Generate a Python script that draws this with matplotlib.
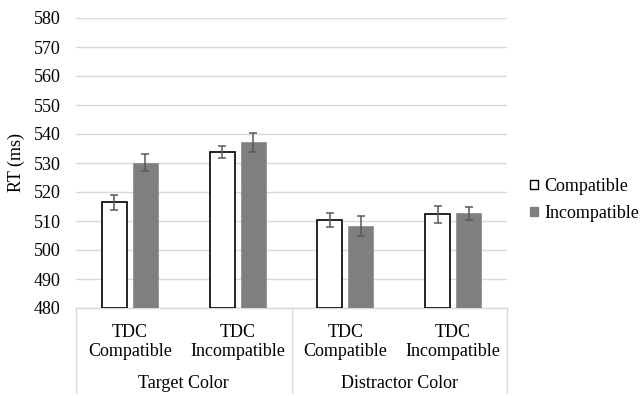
import matplotlib
matplotlib.use('Agg')
import matplotlib.pyplot as plt
from matplotlib.patches import Patch
from matplotlib.transforms import blended_transform_factory
import numpy as np

plt.rcParams['font.family'] = ['Liberation Serif', 'DejaVu Serif']

conditions = ['TDC\nCompatible', 'TDC\nIncompatible', 'TDC\nCompatible', 'TDC\nIncompatible']
groups = ['Target Color', 'Distractor Color']
series = ['Compatible', 'Incompatible']

rt_compatible = [516.4, 533.8, 510.2, 512.3]
rt_incompatible = [530.1, 537.1, 508.3, 512.6]
err_compatible = [2.5, 2.2, 2.4, 2.9]
err_incompatible = [2.9, 3.2, 3.3, 2.4]

fig = plt.figure(figsize=(6.43, 3.96), dpi=100)
ax = fig.add_axes([76 / 643, 1 - 308 / 396, 431 / 643, 290 / 396])

x = np.arange(len(conditions))
w = 0.232
off = 0.144
ekw = dict(ecolor='#595959', elinewidth=1.1, capsize=2.6, capthick=1.1)

ax.bar(x - off, [v - 480 for v in rt_compatible], w, bottom=480, color='white',
       edgecolor='black', linewidth=1.2, yerr=err_compatible, error_kw=ekw,
       zorder=3, label=series[0])
ax.bar(x + off, [v - 480 for v in rt_incompatible], w, bottom=480, color='#7f7f7f',
       edgecolor='#8a8a8a', linewidth=0.5, yerr=err_incompatible, error_kw=ekw,
       zorder=3, label=series[1])

ax.set_xlim(-0.5, 3.5)
ax.set_ylim(480, 580)
ax.set_yticks(range(480, 581, 10))
ax.yaxis.grid(True, color='#d9d9d9', linewidth=1.0, zorder=0)
ax.set_axisbelow(True)
for s in ['left', 'right', 'top']:
    ax.spines[s].set_visible(False)
ax.spines['bottom'].set_color('#d9d9d9')
ax.spines['bottom'].set_linewidth(1.0)
ax.tick_params(axis='y', length=0, pad=11, labelsize=13)
ax.set_xticks([])
ax.set_ylabel('RT (ms)', fontsize=13, labelpad=6)

# two-level category axis
tr = blended_transform_factory(ax.transData, ax.transAxes)
for i, lab in enumerate(conditions):
    ax.text(x[i], -0.117, lab, transform=tr, ha='center', va='center',
            fontsize=13, linespacing=1.18)
for g, lab in enumerate(groups):
    ax.text(0.5 + 2 * g, -0.26, lab, transform=tr, ha='center', va='center', fontsize=13)
for xv in [-0.5, 1.5, 3.5]:
    ax.plot([xv, xv], [0, -0.293], transform=tr, color='#d9d9d9', linewidth=1.0,
            clip_on=False)

handles = [Patch(facecolor='white', edgecolor='black', linewidth=1.0),
           Patch(facecolor='#7f7f7f', edgecolor='#7f7f7f')]
fig.legend(handles, series, loc='center left', bbox_to_anchor=(530 / 643, 1 - 200 / 396),
           frameon=False, fontsize=13, handlelength=0.42, handleheight=0.42,
           handletextpad=0.35, labelspacing=0.55, borderaxespad=0, borderpad=0)

fig.savefig('out.png', dpi=100)
